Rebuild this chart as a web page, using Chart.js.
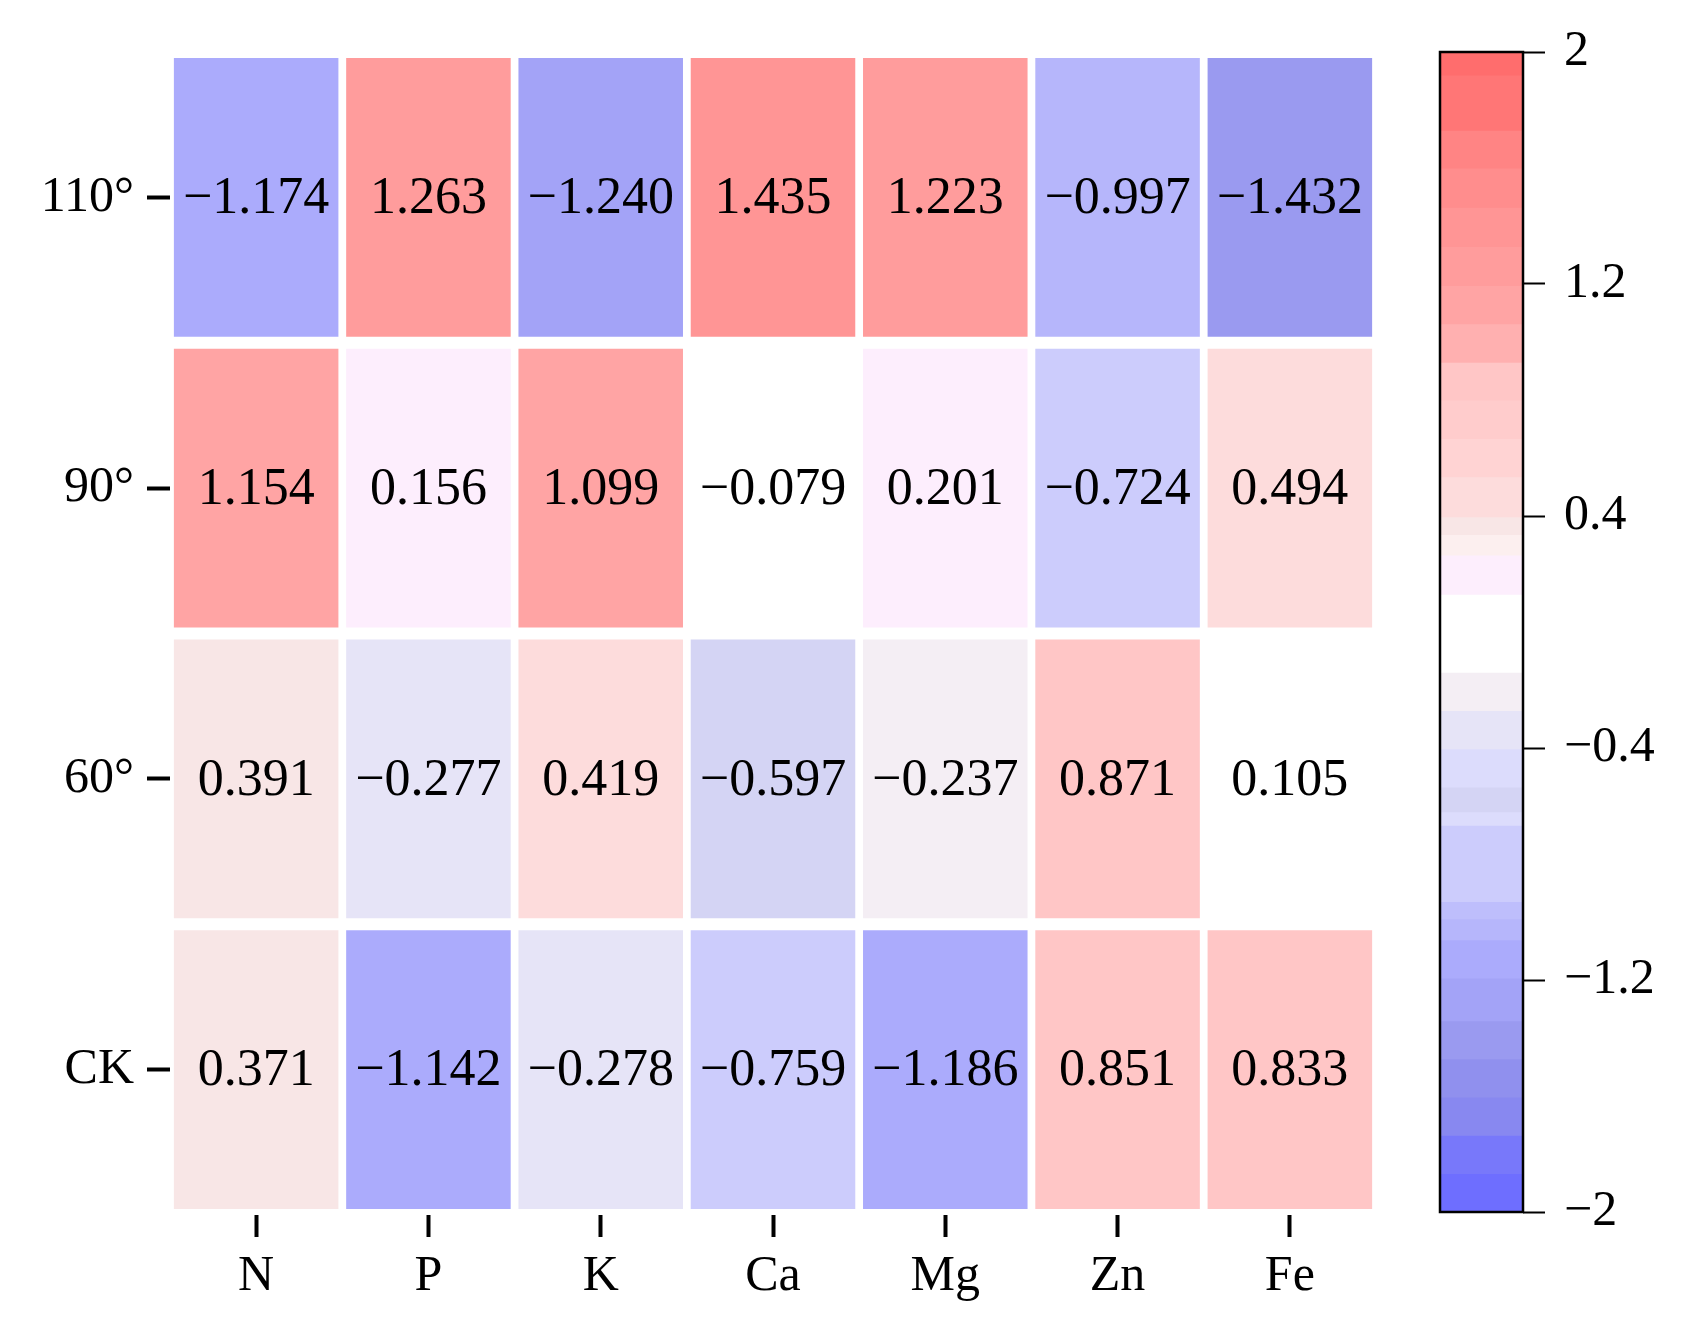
<!DOCTYPE html>
<html>
<head>
<meta charset="utf-8">
<script src="https://cdn.jsdelivr.net/npm/chart.js@4.4.1/dist/chart.umd.min.js"></script>
<style>
  body { margin: 0; background: #fff; }
  #wrap { position: relative; width: 1691px; height: 1333px; background: #fff; }
  #heat { position: absolute; left: 0; top: 0; }
  #bar { position: absolute; left: 1400px; top: 0; }
</style>
</head>
<body>
<div id="wrap">
  <canvas id="heat" width="1400" height="1333" style="width:1400px;height:1333px"></canvas>
  <canvas id="bar" width="291" height="1333" style="width:291px;height:1333px"></canvas>
</div>
<script>
// categories
const elements = ['N', 'P', 'K', 'Ca', 'Mg', 'Zn', 'Fe'];
const rows = ['110°', '90°', '60°', 'CK'];

// values per row
const val110 = [-1.174, 1.263, -1.240, 1.435, 1.223, -0.997, -1.432];
const val90 = [1.154, 0.156, 1.099, -0.079, 0.201, -0.724, 0.494];
const val60 = [0.391, -0.277, 0.419, -0.597, -0.237, 0.871, 0.105];
const valCK = [0.371, -1.142, -0.278, -0.759, -1.186, 0.851, 0.833];

// colour bar levels (top to bottom) and ticks
const cbEdges = [2, 1.92, 1.73, 1.599, 1.464, 1.326, 1.194, 1.062, 0.930, 0.799, 0.667, 0.535,
  0.397, 0.336, 0.265, 0.130, -0.139, -0.271, -0.403, -0.535, -0.62, -0.667, -0.930, -0.989,
  -1.062, -1.194, -1.341, -1.472, -1.604, -1.736, -1.868, -2];
const cbColors = ['#FF6D6D', '#FF7676', '#FF8484', '#FF8D8D', '#FF9595', '#FF9C9C', '#FFA4A4',
  '#FFB0B0', '#FFC6C6', '#FFCCCC', '#FFD3D3', '#FDDCDC', '#F8E6E6', '#FCEFEF', '#FDEEFD',
  '#FFFFFF', '#F4EEF4', '#E6E4F7', '#DCDCFC', '#D4D4F4', '#DCDCFC', '#CCCCFC', '#BEBEFC',
  '#B6B6FB', '#ABABFC', '#A3A3F7', '#9A9AF0', '#9090EE', '#8888F0', '#7878FA', '#6E6EFF'];
const cbTicks = [-2, -1.2, -0.4, 0.4, 1.2, 2];

const FONT = '"Liberation Serif", "Times New Roman", serif';

function colorFor(v) {
  for (let i = 0; i < cbColors.length; i++) {
    if (v <= cbEdges[i] && v > cbEdges[i + 1]) return cbColors[i];
  }
  return cbColors[cbColors.length - 1];
}

function fmt(v, digits) {
  const s = Math.abs(v).toFixed(digits);
  return v < 0 ? '\u2212' + s : s;
}

const rowValues = [val110, val90, val60, valCK];
const gap = 0.0206;

// texto dentro de cada celda
const cellText = {
  id: 'cellText',
  afterDatasetsDraw(chart) {
    const ctx = chart.ctx;
    ctx.save();
    ctx.font = '52px ' + FONT;
    ctx.fillStyle = '#000';
    ctx.textAlign = 'center';
    ctx.textBaseline = 'middle';
    chart.data.datasets.forEach((ds, di) => {
      chart.getDatasetMeta(di).data.forEach((bar, j) => {
        ctx.fillText(fmt(ds.values[j], 3), bar.x, (bar.y + bar.base) / 2 + 2);
      });
    });
    ctx.restore();
  }
};

new Chart(document.getElementById('heat'), {
  type: 'bar',
  data: {
    labels: elements,
    datasets: rowValues.map((vals, r) => ({
      label: rows[r],
      values: vals,
      data: vals.map(() => [r + gap, r + 1 - gap]),
      backgroundColor: vals.map(colorFor),
      borderWidth: 0,
      grouped: false,
      barPercentage: 0.955,
      categoryPercentage: 1
    }))
  },
  options: {
    responsive: false,
    animation: false,
    layout: { padding: { top: 52, right: 24, left: 0, bottom: 0 } },
    plugins: { legend: { display: false }, tooltip: { enabled: false } },
    scales: {
      x: {
        type: 'category',
        grid: { display: true, drawOnChartArea: false, drawTicks: true, offset: false,
          tickLength: 22, tickWidth: 4, tickColor: '#000' },
        border: { display: false },
        ticks: { color: '#000', font: { family: FONT, size: 50 }, padding: 10, maxRotation: 0 },
        afterFit(scale) { scale.height = 118; }
      },
      y: {
        type: 'linear',
        min: 0,
        max: 4,
        reverse: true,
        grid: { display: true, drawOnChartArea: false, drawTicks: true,
          tickLength: 23, tickWidth: 4, tickColor: '#000' },
        border: { display: false },
        afterBuildTicks(scale) {
          scale.ticks = rows.map((_, i) => ({ value: i + 0.5 }));
        },
        ticks: {
          color: '#000',
          font: { family: FONT, size: 50 },
          padding: 13,
          callback: (v, i) => rows[i]
        },
        afterFit(scale) { scale.width = 170; }
      }
    }
  },
  plugins: [cellText]
});

// barra de color
const cbFrame = {
  id: 'cbFrame',
  afterDraw(chart) {
    const a = chart.chartArea;
    const ctx = chart.ctx;
    ctx.save();
    ctx.lineWidth = 2.5;
    ctx.strokeStyle = '#000';
    ctx.strokeRect(a.left, a.top, a.right - a.left, a.bottom - a.top);
    ctx.restore();
  }
};

new Chart(document.getElementById('bar'), {
  type: 'bar',
  data: {
    labels: [''],
    datasets: cbColors.map((c, i) => ({
      data: [[cbEdges[i + 1], cbEdges[i]]],
      backgroundColor: c,
      borderWidth: 0,
      grouped: false,
      barPercentage: 1,
      categoryPercentage: 1
    }))
  },
  options: {
    responsive: false,
    animation: false,
    layout: { padding: { top: 52, bottom: 121, left: 40, right: 0 } },
    plugins: { legend: { display: false }, tooltip: { enabled: false } },
    scales: {
      x: { display: false },
      y: {
        type: 'linear',
        position: 'right',
        min: -2,
        max: 2,
        grid: { display: true, drawOnChartArea: false, drawTicks: true,
          tickLength: 22, tickWidth: 2, tickColor: '#000' },
        border: { display: false },
        afterBuildTicks(scale) {
          scale.ticks = cbTicks.map(v => ({ value: v }));
        },
        ticks: {
          color: '#000',
          font: { family: FONT, size: 50 },
          padding: 19,
          callback: v => fmt(v, v === 2 || v === -2 ? 0 : 1)
        },
        afterFit(scale) { scale.width = 168; }
      }
    }
  },
  plugins: [cbFrame]
});
</script>
</body>
</html>
